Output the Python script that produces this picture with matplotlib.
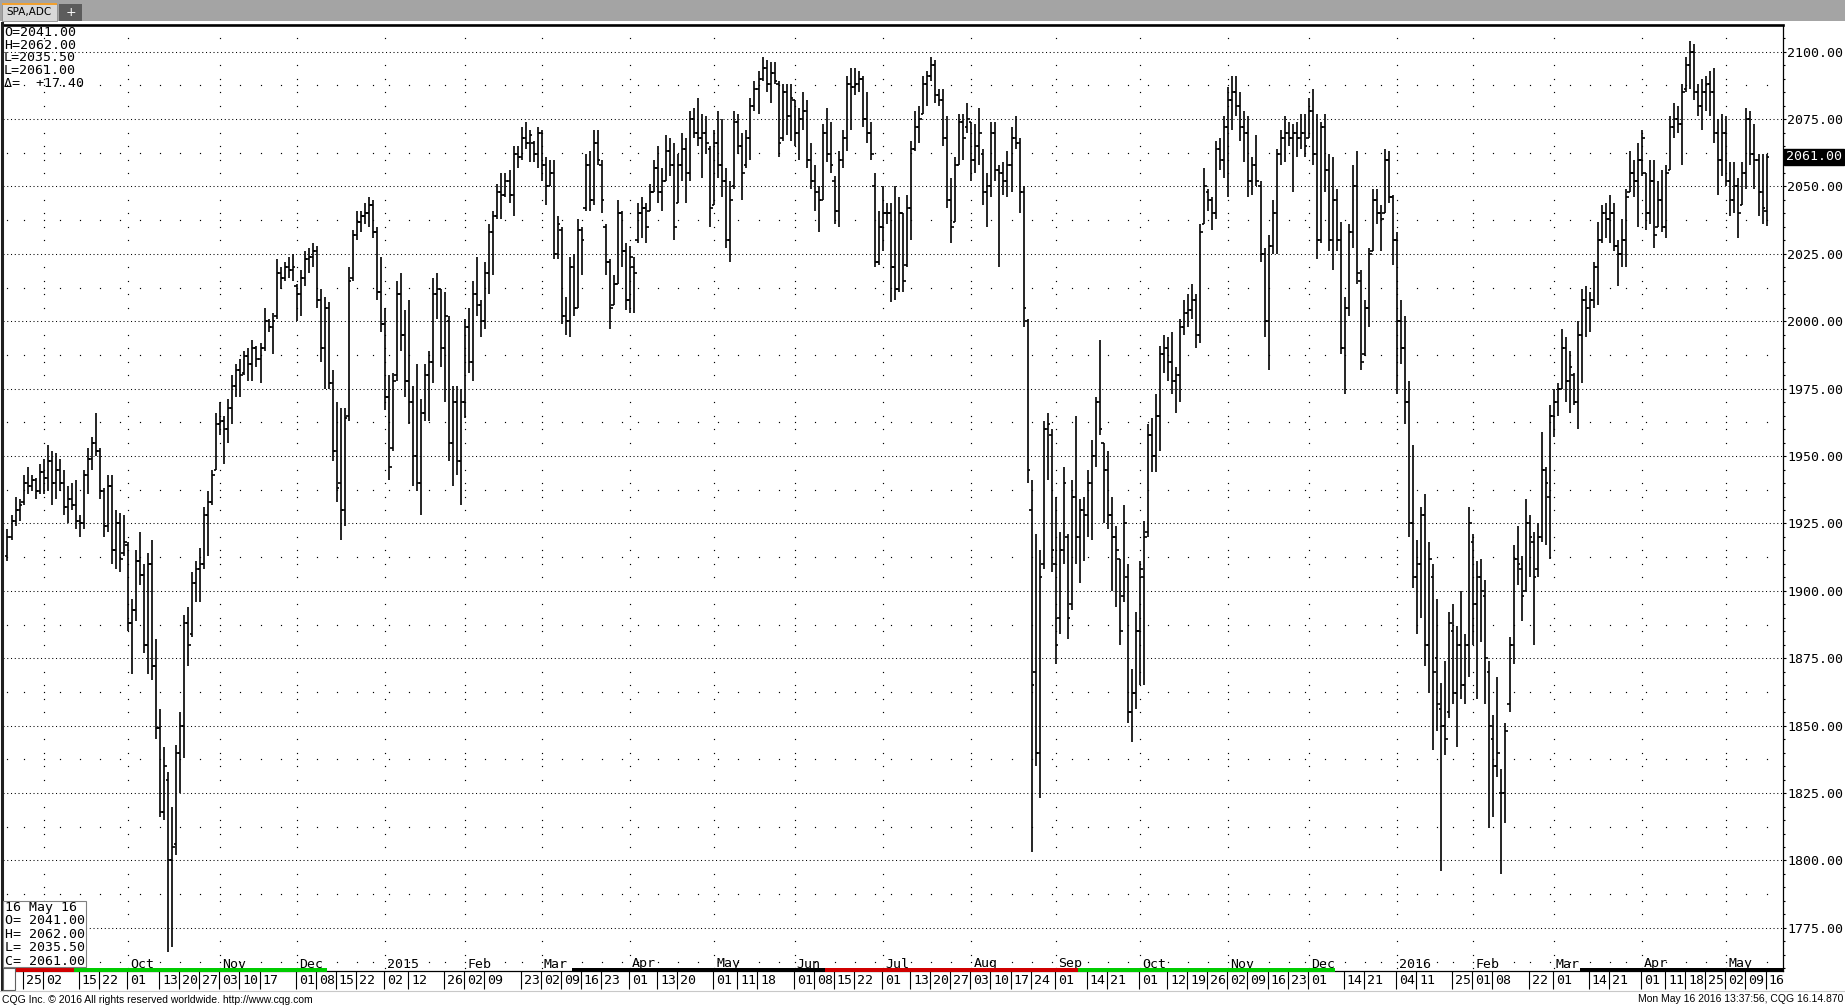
import matplotlib.pyplot as plt
import numpy as np
import pandas as pd
from matplotlib.patches import Rectangle
from matplotlib.ticker import FormatStrFormatter

W, H = 1845, 1008

# SPA,ADC daily bars, 19 Aug 2014 .. 16 May 2016
highs = [
    1923, 1928, 1935, 1934, 1943, 1946, 1943, 1942, 1947, 1949,
    1954, 1952, 1951, 1949, 1945, 1939, 1940, 1941, 1928, 1945,
    1953, 1957, 1966, 1953, 1938, 1943, 1943, 1930, 1929, 1928,
    1918, 1897, 1915, 1922, 1910, 1914, 1919, 1882, 1856, 1842,
    1833, 1820, 1843, 1855, 1891, 1894, 1907, 1911, 1916, 1931,
    1937, 1945, 1966, 1970, 1965, 1971, 1980, 1984, 1986, 1989,
    1990, 1993, 1991, 1992, 2005, 2001, 2003, 2023, 2020, 2022,
    2024, 2025, 2014, 2019, 2026, 2027, 2029, 2028, 2012, 2009,
    2007, 1982, 1970, 1968, 1968, 2020, 2034, 2041, 2041, 2044,
    2046, 2045, 2035, 2024, 2005, 1980, 1981, 2015, 2018, 2004,
    2008, 1976, 1984, 1971, 1984, 1989, 2016, 2018, 2012, 2011,
    2002, 1976, 1976, 1975, 2001, 2005, 2015, 2024, 2008, 2022,
    2036, 2041, 2051, 2055, 2055, 2056, 2065, 2065, 2072, 2074,
    2071, 2067, 2072, 2071, 2061, 2060, 2060, 2039, 2035, 2009,
    2024, 2025, 2038, 2035, 2062, 2063, 2071, 2071, 2060, 2036,
    2023, 2017, 2045, 2041, 2029, 2028, 2024, 2044, 2046, 2044,
    2051, 2060, 2065, 2057, 2069, 2068, 2066, 2062, 2070, 2068,
    2078, 2079, 2083, 2077, 2076, 2065, 2071, 2078, 2075, 2057,
    2052, 2078, 2077, 2070, 2071, 2083, 2089, 2093, 2098, 2097,
    2096, 2096, 2089, 2088, 2088, 2088, 2082, 2079, 2085, 2082,
    2066, 2058, 2050, 2073, 2079, 2074, 2054, 2063, 2071, 2091,
    2094, 2094, 2093, 2091, 2085, 2074, 2055, 2041, 2050, 2044,
    2044, 2050, 2046, 2040, 2047, 2067, 2078, 2080, 2091, 2093,
    2098, 2097, 2086, 2086, 2076, 2053, 2061, 2077, 2077, 2081,
    2074, 2073, 2079, 2064, 2055, 2074, 2074, 2058, 2059, 2063,
    2072, 2076, 2068, 2050, 2001, 1941, 1921, 1915, 1963, 1966,
    1960, 1935, 1922, 1946, 1921, 1941, 1965, 1934, 1935, 1945,
    1956, 1972, 1993, 1955, 1952, 1935, 1924, 1912, 1932, 1910,
    1871, 1892, 1911, 1926, 1962, 1964, 1973, 1991, 1995, 1994,
    1996, 1983, 2001, 2008, 2010, 2014, 2010, 2036, 2057, 2049,
    2046, 2067, 2068, 2076, 2087, 2091, 2091, 2085, 2078, 2076,
    2061, 2069, 2052, 2027, 2032, 2045, 2064, 2071, 2076, 2074,
    2073, 2074, 2077, 2077, 2083, 2086, 2077, 2074, 2077, 2062,
    2061, 2049, 2037, 2009, 2036, 2058, 2063, 2019, 2008, 2027,
    2049, 2049, 2043, 2064, 2063, 2047, 2033, 2008, 2002, 1978,
    1954, 1919, 1931, 1936, 1918, 1910, 1897, 1866, 1874, 1892,
    1895, 1887, 1900, 1884, 1931, 1921, 1911, 1912, 1904, 1874,
    1854, 1868, 1834, 1851, 1883, 1917, 1924, 1913, 1934, 1928,
    1922, 1925, 1959, 1946, 1969, 1975, 1977, 1997, 1994, 1989,
    1981, 2000, 2012, 2013, 2011, 2022, 2037, 2043, 2044, 2047,
    2044, 2030, 2038, 2049, 2063, 2060, 2066, 2071, 2055, 2060,
    2060, 2052, 2056, 2058, 2076, 2081, 2080, 2088, 2098, 2104,
    2103, 2088, 2090, 2091, 2093, 2094, 2075, 2077, 2076, 2059,
    2059, 2053, 2059, 2079, 2078, 2073, 2062, 2062, 2062,
]
lows = [
    1911, 1919, 1924, 1926, 1932, 1936, 1937, 1934, 1936, 1936,
    1937, 1932, 1934, 1937, 1928, 1925, 1930, 1923, 1920, 1923,
    1936, 1945, 1950, 1934, 1920, 1922, 1910, 1908, 1907, 1913,
    1885, 1869, 1889, 1902, 1877, 1869, 1867, 1845, 1816, 1815,
    1766, 1768, 1802, 1825, 1838, 1872, 1883, 1896, 1896, 1908,
    1913, 1932, 1945, 1958, 1947, 1955, 1962, 1972, 1972, 1980,
    1978, 1978, 1983, 1977, 1989, 1996, 1988, 2001, 2012, 2015,
    2016, 2015, 2000, 2002, 2013, 2018, 2020, 2005, 1985, 1975,
    1975, 1948, 1933, 1919, 1924, 1963, 2015, 2030, 2033, 2036,
    2035, 2031, 2008, 1996, 1967, 1941, 1952, 1978, 1989, 1972,
    1962, 1939, 1937, 1928, 1963, 1963, 1977, 2001, 1983, 1970,
    1948, 1939, 1943, 1932, 1964, 1981, 1978, 2002, 1994, 1997,
    2010, 2017, 2038, 2038, 2046, 2044, 2039, 2057, 2060, 2064,
    2059, 2059, 2057, 2052, 2043, 2050, 2023, 2023, 1999, 1995,
    1994, 2002, 2005, 2017, 2041, 2041, 2043, 2058, 2040, 2017,
    1997, 2006, 2014, 2020, 2004, 2003, 2003, 2029, 2031, 2029,
    2041, 2048, 2044, 2041, 2052, 2054, 2030, 2044, 2052, 2044,
    2052, 2068, 2065, 2053, 2062, 2035, 2043, 2053, 2046, 2027,
    2022, 2049, 2062, 2045, 2057, 2060, 2078, 2077, 2089, 2085,
    2081, 2088, 2061, 2067, 2069, 2067, 2065, 2060, 2071, 2057,
    2049, 2041, 2033, 2045, 2059, 2055, 2036, 2035, 2057, 2063,
    2071, 2084, 2085, 2072, 2066, 2060, 2020, 2021, 2026, 2036,
    2007, 2008, 2011, 2011, 2020, 2030, 2063, 2066, 2077, 2080,
    2089, 2081, 2080, 2065, 2042, 2029, 2037, 2058, 2060, 2070,
    2052, 2055, 2058, 2043, 2035, 2046, 2052, 2020, 2047, 2046,
    2048, 2064, 2040, 1998, 1940, 1803, 1835, 1823, 1908, 1941,
    1907, 1873, 1884, 1910, 1882, 1893, 1910, 1903, 1911, 1920,
    1919, 1946, 1958, 1925, 1923, 1900, 1894, 1880, 1896, 1851,
    1844, 1856, 1865, 1865, 1920, 1944, 1944, 1952, 1981, 1978,
    1973, 1966, 1970, 1995, 1998, 2001, 1990, 1992, 2036, 2041,
    2034, 2038, 2056, 2053, 2046, 2071, 2076, 2067, 2059, 2046,
    2047, 2050, 2022, 1994, 1982, 2025, 2025, 2058, 2059, 2065,
    2048, 2061, 2064, 2061, 2068, 2058, 2023, 2029, 2048, 2026,
    2019, 2026, 1988, 1973, 2002, 2027, 2014, 1982, 1987, 1998,
    2026, 2036, 2026, 2040, 2044, 2021, 1973, 1984, 1962, 1920,
    1901, 1884, 1890, 1872, 1862, 1841, 1848, 1796, 1839, 1853,
    1858, 1842, 1860, 1858, 1868, 1880, 1860, 1881, 1858, 1812,
    1816, 1831, 1795, 1814, 1855, 1873, 1902, 1889, 1900, 1905,
    1880, 1905, 1918, 1917, 1912, 1957, 1965, 1975, 1970, 1966,
    1969, 1960, 1977, 1994, 1996, 2005, 2006, 2029, 2031, 2029,
    2026, 2013, 2020, 2020, 2048, 2046, 2035, 2054, 2034, 2036,
    2027, 2035, 2033, 2031, 2056, 2068, 2070, 2058, 2085, 2086,
    2082, 2076, 2071, 2078, 2076, 2066, 2047, 2054, 2050, 2039,
    2040, 2031, 2043, 2049, 2058, 2049, 2039, 2036, 2035.5,
]
opens = [
    1913, 1920, 1926, 1930, 1933, 1940, 1939, 1941, 1937, 1944,
    1942, 1948, 1940, 1945, 1940, 1931, 1934, 1932, 1926, 1925,
    1943, 1949, 1955, 1952, 1937, 1924, 1939, 1915, 1925, 1914,
    1917, 1888, 1893, 1911, 1906, 1880, 1910, 1872, 1849, 1818,
    1830, 1800, 1806, 1840, 1850, 1888, 1884, 1903, 1908, 1910,
    1928, 1933, 1945, 1962, 1963, 1960, 1968, 1976, 1982, 1981,
    1987, 1984, 1990, 1986, 1990, 2000, 1998, 2002, 2018, 2016,
    2020, 2019, 2013, 2010, 2016, 2023, 2024, 2026, 2008, 1990,
    2005, 1977, 1952, 1940, 1930, 1965, 2016, 2032, 2037, 2039,
    2040, 2043, 2033, 2011, 1999, 1972, 1953, 1980, 2010, 1995,
    1978, 1970, 1950, 1940, 1966, 1980, 1985, 2010, 2012, 1990,
    2000, 1955, 1970, 1948, 1970, 1998, 1985, 2010, 2006, 2000,
    2018, 2033, 2039, 2048, 2047, 2052, 2047, 2062, 2061, 2068,
    2066, 2066, 2062, 2070, 2058, 2050, 2055, 2025, 2034, 2002,
    2000, 2020, 2005, 2034, 2042, 2058, 2045, 2066, 2058, 2035,
    2022, 2006, 2014, 2040, 2026, 2008, 2020, 2030, 2040, 2042,
    2041, 2048, 2057, 2048, 2052, 2063, 2058, 2044, 2058, 2064,
    2055, 2075, 2070, 2068, 2070, 2064, 2043, 2066, 2058, 2052,
    2030, 2050, 2074, 2065, 2058, 2068, 2080, 2086, 2090, 2094,
    2088, 2092, 2088, 2068, 2085, 2076, 2082, 2070, 2075, 2078,
    2060, 2052, 2048, 2045, 2070, 2062, 2052, 2041, 2060, 2068,
    2088, 2087, 2088, 2090, 2075, 2070, 2050, 2022, 2035, 2040,
    2040, 2020, 2012, 2040, 2021, 2042, 2064, 2072, 2077, 2088,
    2091, 2095, 2084, 2082, 2068, 2045, 2037, 2058, 2074, 2072,
    2074, 2060, 2065, 2062, 2048, 2050, 2070, 2056, 2055, 2052,
    2058, 2068, 2066, 2048, 2000, 1930, 1870, 1840, 1910, 1960,
    1958, 1910, 1890, 1915, 1920, 1895, 1935, 1920, 1930, 1928,
    1940, 1950, 1970, 1955, 1945, 1928, 1920, 1912, 1898, 1905,
    1855, 1862, 1885, 1905, 1922, 1958, 1950, 1965, 1988, 1990,
    1985, 1978, 1980, 1998, 2003, 2004, 2008, 1995, 2036, 2048,
    2045, 2040, 2064, 2060, 2072, 2082, 2085, 2080, 2072, 2070,
    2052, 2058, 2050, 2025, 2000, 2028, 2040, 2062, 2068, 2070,
    2068, 2070, 2068, 2070, 2068, 2078, 2062, 2030, 2072, 2056,
    2030, 2045, 2030, 1990, 2005, 2033, 2050, 2015, 1988, 2005,
    2026, 2045, 2040, 2040, 2060, 2046, 2030, 2000, 1990, 1970,
    1925, 1905, 1910, 1928, 1880, 1905, 1875, 1856, 1850, 1855,
    1885, 1862, 1880, 1865, 1880, 1918, 1895, 1905, 1898, 1870,
    1845, 1835, 1825, 1825, 1858, 1880, 1912, 1908, 1900, 1925,
    1918, 1908, 1920, 1945, 1935, 1965, 1970, 1975, 1990, 1978,
    1980, 1970, 1995, 2008, 2005, 2008, 2020, 2030, 2040, 2038,
    2040, 2028, 2025, 2030, 2048, 2055, 2052, 2060, 2055, 2040,
    2052, 2035, 2045, 2035, 2056, 2072, 2075, 2073, 2086, 2095,
    2100, 2085, 2080, 2085, 2088, 2085, 2070, 2060, 2070, 2052,
    2045, 2050, 2043, 2055, 2075, 2062, 2060, 2048, 2041,
]
closes = [
    1920, 1926, 1930, 1932, 1940, 1939, 1941, 1937, 1944, 1942,
    1948, 1940, 1945, 1940, 1931, 1934, 1932, 1926, 1925, 1943,
    1949, 1955, 1952, 1937, 1924, 1939, 1915, 1925, 1912, 1918,
    1888, 1893, 1911, 1906, 1880, 1910, 1872, 1849, 1818, 1835,
    1800, 1805, 1840, 1850, 1888, 1880, 1903, 1908, 1910, 1928,
    1933, 1943, 1962, 1963, 1960, 1968, 1976, 1982, 1980, 1987,
    1984, 1990, 1986, 1990, 2000, 1998, 2000, 2018, 2016, 2020,
    2019, 2020, 2010, 2016, 2023, 2024, 2026, 2008, 1990, 2005,
    1977, 1952, 1938, 1930, 1964, 2015, 2032, 2037, 2039, 2040,
    2043, 2033, 2011, 1999, 1972, 1946, 1978, 2010, 1995, 1978,
    1970, 1950, 1940, 1966, 1980, 1985, 2010, 2012, 1990, 2002,
    1955, 1970, 1948, 1970, 1998, 1985, 2010, 2006, 2000, 2018,
    2033, 2039, 2048, 2047, 2052, 2047, 2062, 2061, 2068, 2066,
    2069, 2062, 2070, 2058, 2050, 2055, 2025, 2036, 2002, 2000,
    2020, 2005, 2034, 2030, 2058, 2045, 2066, 2060, 2045, 2022,
    2005, 2014, 2040, 2026, 2008, 2024, 2018, 2040, 2042, 2035,
    2048, 2057, 2048, 2052, 2063, 2058, 2035, 2058, 2064, 2055,
    2075, 2070, 2068, 2070, 2066, 2042, 2066, 2058, 2052, 2030,
    2045, 2074, 2065, 2055, 2068, 2080, 2086, 2090, 2094, 2088,
    2092, 2089, 2066, 2085, 2076, 2083, 2070, 2075, 2078, 2060,
    2052, 2048, 2045, 2070, 2062, 2058, 2041, 2060, 2068, 2088,
    2087, 2088, 2090, 2075, 2070, 2062, 2022, 2035, 2040, 2040,
    2020, 2012, 2040, 2015, 2042, 2064, 2072, 2075, 2088, 2091,
    2095, 2084, 2082, 2068, 2045, 2035, 2058, 2074, 2068, 2075,
    2060, 2065, 2070, 2048, 2050, 2070, 2056, 2055, 2052, 2058,
    2068, 2066, 2048, 2005, 1945, 1865, 1840, 1905, 1960, 1962,
    1915, 1880, 1915, 1940, 1890, 1935, 1920, 1930, 1928, 1940,
    1950, 1970, 1960, 1945, 1928, 1920, 1915, 1885, 1925, 1855,
    1862, 1885, 1908, 1920, 1958, 1950, 1965, 1988, 1990, 1985,
    1978, 1980, 1998, 2003, 2004, 2008, 1995, 2033, 2050, 2045,
    2040, 2064, 2060, 2072, 2082, 2085, 2080, 2072, 2070, 2052,
    2058, 2052, 2025, 2000, 2028, 2040, 2062, 2068, 2070, 2068,
    2070, 2068, 2070, 2065, 2078, 2062, 2030, 2072, 2056, 2030,
    2045, 2030, 1990, 2005, 2033, 2050, 2018, 1985, 2005, 2025,
    2045, 2040, 2038, 2060, 2046, 2030, 2000, 1990, 1970, 1925,
    1905, 1910, 1928, 1880, 1912, 1870, 1858, 1850, 1845, 1888,
    1862, 1880, 1865, 1880, 1925, 1895, 1905, 1900, 1875, 1850,
    1835, 1840, 1825, 1848, 1880, 1912, 1910, 1898, 1925, 1920,
    1905, 1920, 1945, 1940, 1965, 1970, 1975, 1990, 1978, 1983,
    1970, 1995, 2008, 2005, 2008, 2020, 2030, 2040, 2038, 2040,
    2028, 2025, 2030, 2046, 2055, 2052, 2060, 2068, 2040, 2052,
    2032, 2045, 2035, 2055, 2072, 2075, 2073, 2085, 2095, 2100,
    2085, 2080, 2085, 2088, 2085, 2070, 2060, 2070, 2052, 2045,
    2050, 2040, 2055, 2075, 2062, 2060, 2048, 2042, 2061,
]

holidays = ['2014-09-01', '2014-11-27', '2014-12-25', '2015-01-01', '2015-01-19',
            '2015-02-16', '2015-04-03', '2015-05-25', '2015-07-03', '2015-09-07',
            '2015-11-26', '2015-12-25', '2016-01-01', '2016-01-18', '2016-02-15',
            '2016-03-25']

# dates printed in the time scale row
axis_dates = [
    '2014-08-25', '2014-09-02', '2014-09-15', '2014-09-22', '2014-10-01', '2014-10-13',
    '2014-10-20', '2014-10-27', '2014-11-03', '2014-11-10', '2014-11-17', '2014-12-01',
    '2014-12-08', '2014-12-15', '2014-12-22', '2015-01-02', '2015-01-12', '2015-01-26',
    '2015-02-02', '2015-02-09', '2015-02-23', '2015-03-02', '2015-03-09', '2015-03-16',
    '2015-03-23', '2015-04-01', '2015-04-13', '2015-04-20', '2015-05-01', '2015-05-11',
    '2015-05-18', '2015-06-01', '2015-06-08', '2015-06-15', '2015-06-22', '2015-07-01',
    '2015-07-13', '2015-07-20', '2015-07-27', '2015-08-03', '2015-08-10', '2015-08-17',
    '2015-08-24', '2015-09-01', '2015-09-14', '2015-09-21', '2015-10-01', '2015-10-12',
    '2015-10-19', '2015-10-26', '2015-11-02', '2015-11-09', '2015-11-16', '2015-11-23',
    '2015-12-01', '2015-12-14', '2015-12-21', '2016-01-04', '2016-01-11', '2016-01-25',
    '2016-02-01', '2016-02-08', '2016-02-22', '2016-03-01', '2016-03-14', '2016-03-21',
    '2016-04-01', '2016-04-11', '2016-04-18', '2016-04-25', '2016-05-02', '2016-05-09',
    '2016-05-16',
]

# contract roll days and the colour of the strip along the time scale
roll_dates = ['2014-09-12', '2014-12-11', '2015-03-12', '2015-06-11',
              '2015-09-10', '2015-12-10', '2016-03-10']
roll_colors = ['#d00000', '#00cc00', None, 'black', '#d00000', '#00cc00', None, 'black']

header_lines = ['O=2041.00', 'H=2062.00', 'L=2035.50', 'L=2061.00', 'Δ=  +17.40']
box_lines = ['16 May 16', 'O= 2041.00', 'H= 2062.00', 'L= 2035.50', 'C= 2061.00']
last_price = 2061.00

MONO = ['DejaVu Sans Mono', 'DejaVu Sans']
plt.rcParams['font.family'] = MONO

days = pd.bdate_range('2014-08-19', '2016-05-16')
days = days[~days.isin(pd.to_datetime(holidays))]
n = min(len(days), len(highs))
days = days[:n]
x = np.arange(n)

fig = plt.figure(figsize=(W / 100, H / 100), dpi=100)
ax = fig.add_axes([3 / W, 1 - 971 / H, 1780 / W, 946 / H])
ax.set_xlim(-1.12, 442.1)
ax.set_ylim(1759.0, 2109.9)
PX = 1 / 946  # one pixel in axes fraction (vertical)

# grid: dotted lines every 25, sparse dots in between
levels = np.arange(1775, 2101, 25)
for lv in levels:
    ax.axhline(lv, color='black', lw=0.75, ls=(0, (1, 2.6)), zorder=1)

month_start = np.where(np.r_[True, np.diff(days.month) != 0])[0][1:]
week_start = np.r_[0, np.where(np.diff(days.dayofweek) < 0)[0] + 1]
col_levels = [p for p in np.arange(1760, 2110, 5) if p % 25 != 0]
mx, my = np.meshgrid(month_start, col_levels)
ax.plot(mx.ravel(), my.ravel(), ls='none', marker='s', ms=0.85, mew=0,
        color='black', zorder=1)
half_levels = np.arange(1762.5, 2110, 25)
wx, wy = np.meshgrid(week_start, half_levels)
ax.plot(wx.ravel(), wy.ravel(), ls='none', marker='s', ms=0.85, mew=0,
        color='black', zorder=1)

# OHLC bars
ax.vlines(x, lows[:n], highs[:n], color='black', lw=1.2, zorder=3)
ax.hlines(opens[:n], x - 0.65, x, color='black', lw=1.2, zorder=3)
ax.hlines(closes[:n], x, x + 0.65, color='black', lw=1.2, zorder=3)

# price scale on the right
ax.yaxis.tick_right()
ax.set_yticks(levels)
ax.set_yticks(np.arange(1760, 2110, 5), minor=True)
ax.yaxis.set_major_formatter(FormatStrFormatter('%.2f'))
ax.tick_params(axis='y', which='major', direction='out', length=2.2, width=0.8,
               pad=1, labelsize=9.5, labelfontfamily='DejaVu Sans Mono')
ax.tick_params(axis='y', which='minor', direction='out', length=1.6, width=0.8)
ax.set_xticks([])
for side in ['left', 'right', 'bottom']:
    ax.spines[side].set_linewidth(0.9)
ax.spines['top'].set_linewidth(1.9)
ax.spines['left'].set_visible(False)

ax.annotate(f'{last_price:.2f}', xy=(1, last_price), xycoords=('axes fraction', 'data'),
            xytext=(3, 0), textcoords='offset pixels', ha='left', va='center',
            fontsize=9.5, color='white', zorder=6,
            bbox=dict(boxstyle='square,pad=0.12', fc='black', ec='black'))

# time scale: month names inside the plot (the first one sits under the
# quote box on screen, so it is not drawn), dates below it
for m in month_start[1:]:
    d = days[m]
    name = str(d.year) if d.month == 1 else d.strftime('%b')
    ax.annotate(name, xy=(m, 0), xycoords=('data', 'axes fraction'), xytext=(2, 7),
                textcoords='offset pixels', ha='left', va='center', fontsize=9.5,
                zorder=4)

tick_pos = days.get_indexer(pd.to_datetime(axis_dates))
tick_pos = tick_pos[tick_pos >= 0]
ax.vlines(tick_pos - 0.25, -18 * PX, 0, transform=ax.get_xaxis_transform(),
          color='black', lw=0.8, clip_on=False)
for p in tick_pos:
    ax.annotate(days[p].strftime('%d'), xy=(p, 0), xycoords=('data', 'axes fraction'),
                xytext=(2, -10), textcoords='offset pixels', ha='left', va='center',
                fontsize=9.5)

bounds = np.r_[-1.12, days.get_indexer(pd.to_datetime(roll_dates)) - 0.5, 442.1]
for x0, x1, col in zip(bounds[:-1], bounds[1:], roll_colors):
    if col is None:
        continue
    ax.add_patch(Rectangle((x0, -1 * PX), x1 - x0, 4 * PX, transform=ax.get_xaxis_transform(),
                           fc=col, ec='none', clip_on=False, zorder=5))

# screen furniture drawn in pixel coordinates
ov = fig.add_axes([0, 0, 1, 1], facecolor='none')
ov.set_xlim(0, W)
ov.set_ylim(H, 0)
ov.axis('off')
ov.add_patch(Rectangle((0, 0), W, 21, fc='#a4a4a4', ec='none'))
ov.add_patch(Rectangle((2, 4), 55, 17, fc='#d8d8d8', ec='#8c8c8c', lw=0.6))
ov.add_patch(Rectangle((2, 3), 55, 2, fc='#f0a030', ec='none'))
ov.text(6, 12.5, 'SPA,ADC', fontsize=7.5, family=['DejaVu Sans'], va='center', ha='left')
ov.add_patch(Rectangle((59, 4), 23, 17, fc='#5c5c5c', ec='none'))
ov.text(70.5, 12.5, '+', color='white', fontsize=9, family=['DejaVu Sans'],
        ha='center', va='center')
ov.plot([1.5, 1.5], [23, 990], color='#202020', lw=2.2)
ov.plot([0, W], [990.5, 990.5], color='#c8c8c8', lw=0.8)

for i, s in enumerate(header_lines):
    ov.text(4, 32.3 + 12.75 * i, s, fontsize=9.5, ha='left', va='center')

ov.add_patch(Rectangle((3, 901), 83, 66, fc='white', ec='#808080', lw=0.8, zorder=4))
for i, s in enumerate(box_lines):
    ov.text(5, 907.5 + 13.4 * i, s, fontsize=9.5, ha='left', va='center', zorder=5)

# little empty box at the start of the time scale
ov.add_patch(Rectangle((3, 967.5), 12, 22.5, fc='white', ec='#606060', lw=0.8, zorder=4))

ov.text(2, 1000, 'CQG Inc. \u00a9 2016 All rights reserved worldwide. http://www.cqg.com',
        fontsize=7.5, family=['Liberation Sans', 'DejaVu Sans'], ha='left', va='center')
ov.text(1843, 999, 'Mon May 16 2016 13:37:56, CQG 16.14.870',
        fontsize=7.5, family=['Liberation Sans', 'DejaVu Sans'], ha='right', va='center')

fig.savefig('out.png', dpi=100, facecolor='white')
